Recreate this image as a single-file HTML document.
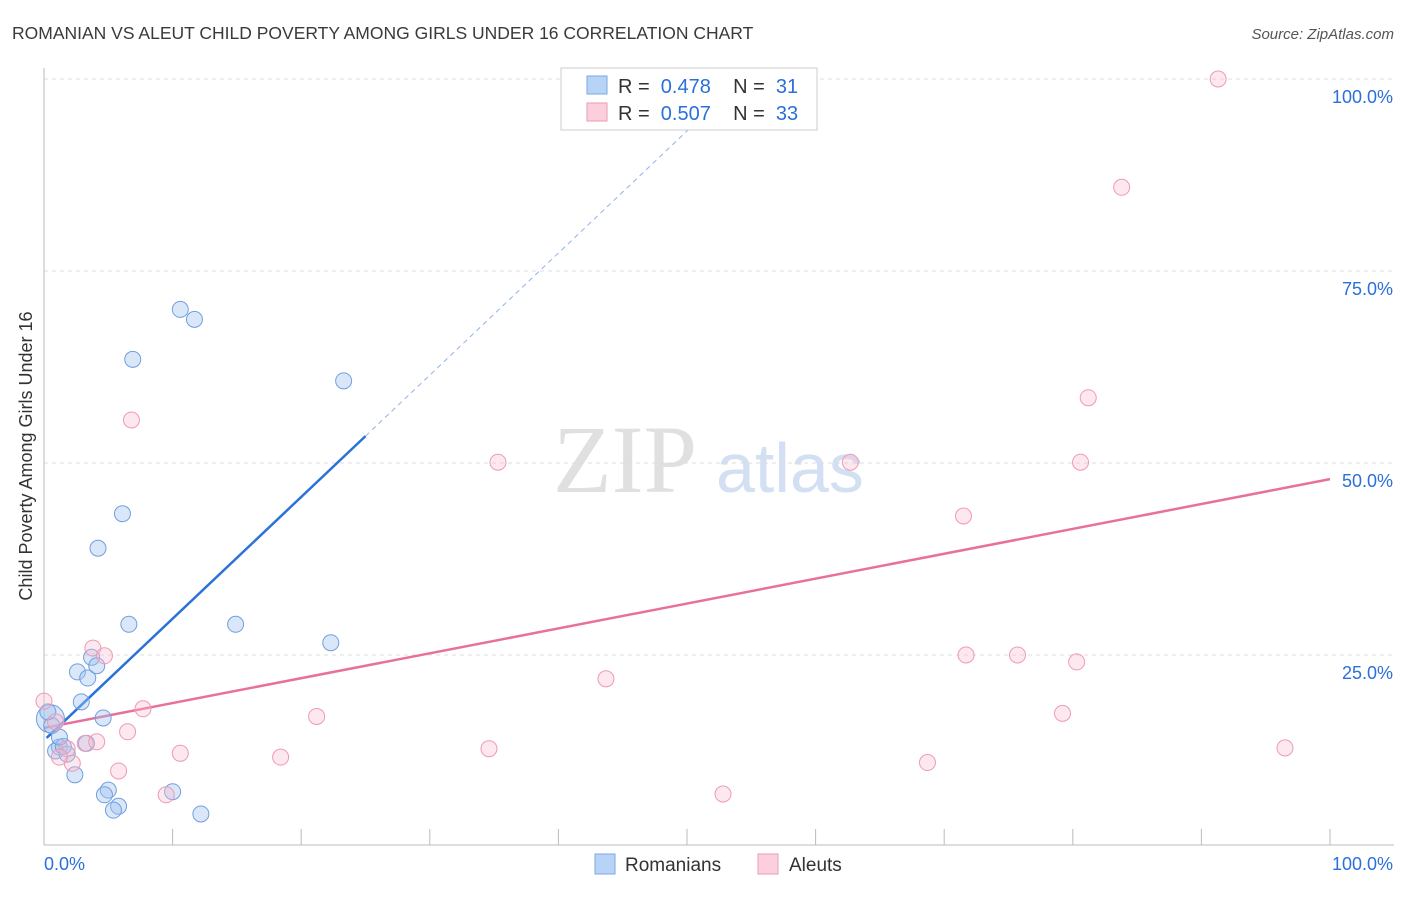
<!DOCTYPE html>
<html><head><meta charset="utf-8"><style>
body{margin:0;background:#fff;font-family:"Liberation Sans",sans-serif;}
svg text{font-family:"Liberation Sans",sans-serif;}
</style></head><body>
<svg width="1406" height="892">
<text x="12" y="39" font-size="17.5" fill="#3a3a3a">ROMANIAN VS ALEUT CHILD POVERTY AMONG GIRLS UNDER 16 CORRELATION CHART</text>
<text x="1394" y="39" font-size="15" fill="#555" font-style="italic" text-anchor="end">Source: ZipAtlas.com</text>
<text x="32" y="456" font-size="18" fill="#333" transform="rotate(-90 32 456)" text-anchor="middle">Child Poverty Among Girls Under 16</text>
<text x="553" y="492" font-size="96" fill="#e0e0e0" style="font-family:'Liberation Serif',serif">ZIP</text>
<text x="716" y="492" font-size="70" fill="#d3e0f3">atlas</text>
<g id="grid"></g><g id="axes"></g><g id="lines"></g><g id="pts"></g>
<g>
<rect x="561" y="68" width="256" height="62" fill="#fff" stroke="#ccc"/>
<rect x="587" y="76" width="20" height="18" fill="#b7d3f5" stroke="#7aa8e6"/>
<text x="618" y="93" font-size="20" fill="#333" xml:space="preserve">R =  <tspan fill="#2a6fdb">0.478</tspan>    N =  <tspan fill="#2a6fdb">31</tspan></text>
<rect x="587" y="103" width="20" height="18" fill="#fbd0dc" stroke="#ef9ab4"/>
<text x="618" y="120" font-size="20" fill="#333" xml:space="preserve">R =  <tspan fill="#2a6fdb">0.507</tspan>    N =  <tspan fill="#2a6fdb">33</tspan></text>
</g>
<g>
<rect x="595" y="854" width="20" height="20" fill="#b7d3f5" stroke="#7aa8e6"/>
<text x="625" y="871" font-size="19" fill="#333">Romanians</text>
<rect x="758" y="854" width="20" height="20" fill="#fbd0dc" stroke="#ef9ab4"/>
<text x="789" y="871" font-size="19" fill="#333">Aleuts</text>
</g>
</svg>
<script>
const NS="http://www.w3.org/2000/svg";
const xTicks=[0,10,20,30,40,50,60,70,80,90,100];
const yTicks=[25,50,75,100];
const yTickLabels=["25.0%","50.0%","75.0%","100.0%"];
const romX=[10.6,11.7,6.9,23.3,6.1,4.2,6.6,14.9,22.3,3.7,2.6,3.4,4.1,2.9,4.6,0.5,0.6,3.3,1.2,0.9,1.8,1.5,2.4,5.0,4.7,10.0,5.8,5.4,12.2,1.2,0.3];
const romY=[70.0,68.7,63.5,60.7,43.4,38.9,29.0,29.0,26.6,24.7,22.8,22.0,23.6,18.9,16.8,16.7,15.8,13.5,13.0,12.5,12.1,13.1,9.4,7.4,6.8,7.2,5.3,4.8,4.3,14.3,17.6];
const aleX=[91.3,83.8,81.2,6.8,35.3,62.7,80.6,71.5,3.8,4.7,43.7,71.7,75.7,80.3,7.7,21.2,79.2,0,0.9,6.5,1.8,3.2,4.1,34.6,10.6,18.4,2.2,5.8,68.7,96.5,9.5,52.8,1.2];
const aleY=[100,85.9,58.5,55.6,50.1,50.1,50.1,43.1,25.9,24.9,21.9,25.0,25.0,24.1,18.0,17.0,17.4,19.0,16.3,15.0,12.8,13.5,13.7,12.8,12.2,11.7,10.9,9.9,11.0,12.9,6.8,6.9,11.7];
const romFit=[[0.2,14.2],[25,53.5],[53,98]];
const aleFit=[[0,15.5],[100,47.9]];
const sx=v=>44+v*12.86, sy=v=>847-v*7.68;
function mk(tag,attrs,parent){const e=document.createElementNS(NS,tag);for(const k in attrs)e.setAttribute(k,attrs[k]);document.getElementById(parent).appendChild(e);return e;}
yTicks.forEach((t,i)=>{
 const l=mk('line',{x1:44,x2:1394,y1:sy(t),y2:sy(t),stroke:'#ddd','stroke-dasharray':'4,4'},'grid');
 
 
 const tx=mk('text',{x:1393,y:sy(t)+24,'font-size':18,fill:'#2a6fdb','text-anchor':'end'},'grid');
 tx.textContent=yTickLabels[i];
 
 
});
const ax=mk('line',{x1:44,x2:44,y1:68,y2:845,stroke:'#bbb'},'axes');


const bx=mk('line',{x1:44,x2:1394,y1:845,y2:845,stroke:'#bbb'},'axes');


xTicks.forEach(t=>{const l=mk('line',{x1:sx(t),x2:sx(t),y1:829,y2:845,stroke:'#bbb'},'axes');
 
 });
[[44,'0.0%','start'],[1393,'100.0%','end']].forEach(([x,s,a])=>{const t=mk('text',{x:x,y:870,'font-size':18,fill:'#2a6fdb','text-anchor':a},'axes');t.textContent=s;
 
 });
const b1=mk('line',{x1:sx(romFit[0][0]),y1:sy(romFit[0][1]),x2:sx(romFit[1][0]),y2:sy(romFit[1][1]),stroke:'#2a72d8','stroke-width':2.5},'lines');


const b2=mk('line',{x1:sx(romFit[1][0]),y1:sy(romFit[1][1]),x2:sx(romFit[2][0]),y2:sy(romFit[2][1]),stroke:'#8fb3e8','stroke-width':1,'stroke-dasharray':'5,4'},'lines');


const p1=mk('line',{x1:sx(aleFit[0][0]),y1:sy(aleFit[0][1]),x2:sx(aleFit[1][0]),y2:sy(aleFit[1][1]),stroke:'#e8719a','stroke-width':2.5},'lines');


romX.forEach((v,i)=>{const c=mk('circle',{cx:sx(v),cy:sy(romY[i]),r:i==15?14:8,fill:'rgba(160,196,240,0.4)',stroke:'#6f9fe0','stroke-width':1},'pts');
 
 });
aleX.forEach((v,i)=>{const c=mk('circle',{cx:sx(v),cy:sy(aleY[i]),r:8,fill:'rgba(250,190,210,0.35)',stroke:'#ee9ab5','stroke-width':1},'pts');
 
 });
</script>
</body></html>
